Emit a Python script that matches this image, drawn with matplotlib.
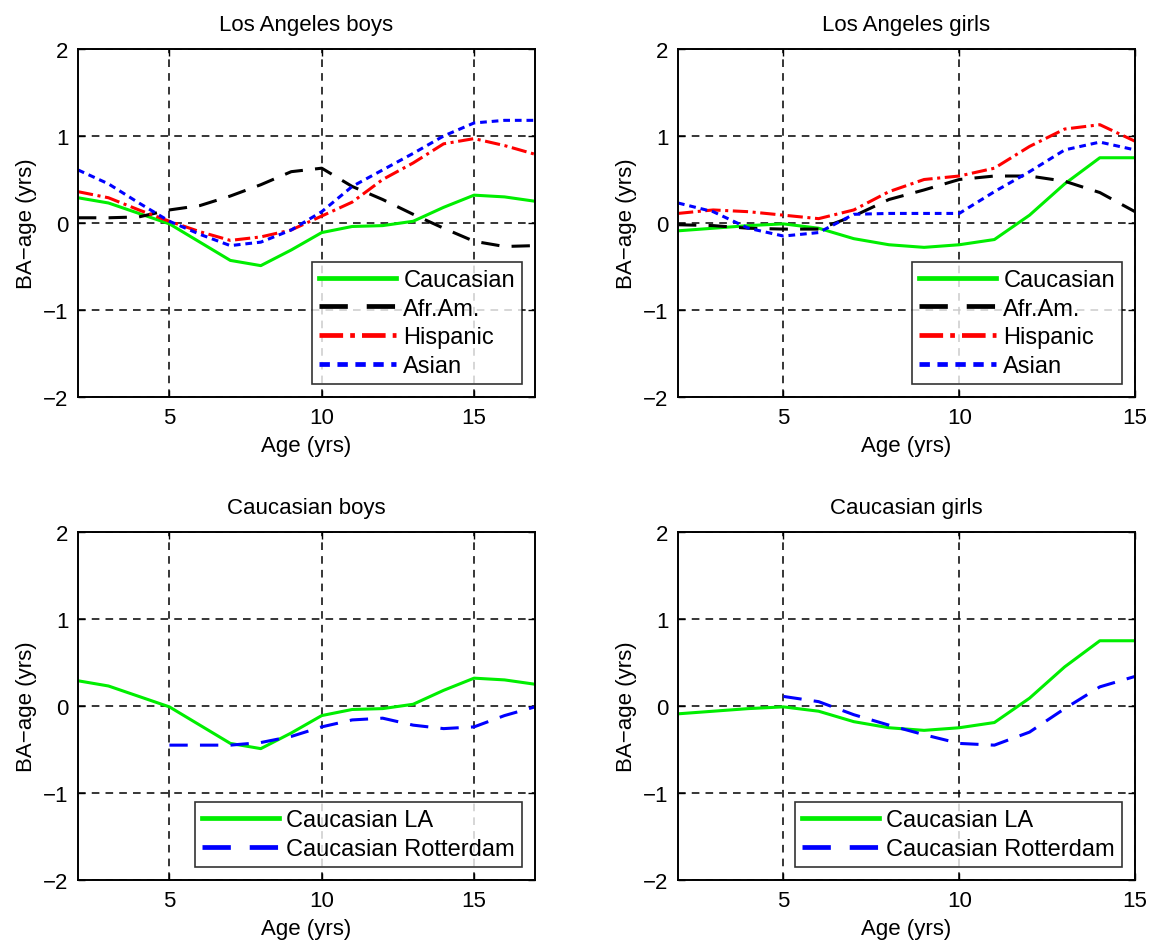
import matplotlib
matplotlib.use("Agg")
import matplotlib.pyplot as plt
import numpy as np

plt.rcParams['font.family'] = ['Liberation Sans', 'DejaVu Sans']

# ---- data ----
ages_boys = list(range(2, 18))
ages_girls = list(range(2, 16))
ages_rot_boys = list(range(5, 18))
ages_rot_girls = list(range(5, 16))

boys_caucasian = [0.29, 0.23, 0.11, -0.01, -0.22, -0.43, -0.49, -0.31, -0.11, -0.04, -0.03, 0.02, 0.18, 0.32, 0.30, 0.25]
boys_afram = [0.06, 0.06, 0.07, 0.15, 0.20, 0.31, 0.44, 0.59, 0.63, 0.42, 0.27, 0.10, -0.06, -0.21, -0.27, -0.26]
boys_hispanic = [0.36, 0.29, 0.15, 0.02, -0.10, -0.20, -0.16, -0.08, 0.08, 0.24, 0.50, 0.69, 0.91, 0.97, 0.89, 0.79]
boys_asian = [0.61, 0.45, 0.23, 0.02, -0.13, -0.26, -0.22, -0.08, 0.13, 0.42, 0.61, 0.80, 1.00, 1.15, 1.18, 1.18]

girls_caucasian = [-0.09, -0.06, -0.03, -0.01, -0.06, -0.18, -0.25, -0.28, -0.25, -0.19, 0.09, 0.45, 0.75, 0.75]
girls_afram = [-0.02, -0.03, -0.06, -0.07, -0.07, 0.08, 0.27, 0.38, 0.50, 0.54, 0.54, 0.48, 0.35, 0.13]
girls_hispanic = [0.11, 0.15, 0.13, 0.09, 0.05, 0.15, 0.36, 0.50, 0.54, 0.63, 0.88, 1.08, 1.13, 0.94]
girls_asian = [0.23, 0.13, -0.06, -0.15, -0.11, 0.10, 0.11, 0.11, 0.11, 0.36, 0.59, 0.84, 0.93, 0.84]

boys_rotterdam = [-0.45, -0.45, -0.45, -0.42, -0.35, -0.24, -0.16, -0.14, -0.22, -0.26, -0.24, -0.11, -0.01]
girls_rotterdam = [0.11, 0.05, -0.10, -0.22, -0.33, -0.43, -0.45, -0.30, -0.03, 0.22, 0.34]

titles = ["Los Angeles boys", "Los Angeles girls", "Caucasian boys", "Caucasian girls"]
xlabel = "Age (yrs)"
ylabel = "BA\u2212age (yrs)"
ethnic_labels = ["Caucasian", "Afr.Am.", "Hispanic", "Asian"]
city_labels = ["Caucasian LA", "Caucasian Rotterdam"]

GREEN = '#00ee00'
FS = 16

fig = plt.figure(figsize=(11.52, 9.45), dpi=100)
W, H = 1152, 945
def add_ax(l, r, t, b):
    return fig.add_axes([l / W, 1 - b / H, (r - l) / W, (b - t) / H])

axes = [add_ax(78, 535, 50, 398), add_ax(678, 1135, 50, 398),
        add_ax(78, 535, 533, 881), add_ax(678, 1135, 533, 881)]

def style(ax, xmax, title):
    ax.set_xlim(2, xmax)
    ax.set_ylim(-2, 2)
    ax.set_xticks([5, 10, 15])
    ax.set_yticks([-2, -1, 0, 1, 2])
    ax.set_yticklabels(["\u22122", "\u22121", "0", "1", "2"])
    ax.tick_params(direction='in', length=5, width=1, labelsize=FS, pad=7,
                   top=True, right=True)
    ax.grid(True, color='black', linestyle=(0, (5, 4)), linewidth=1.1)
    for s in ax.spines.values():
        s.set_linewidth(1.4)
    ax.set_title(title, fontsize=FS, pad=14)
    ax.set_xlabel(xlabel, fontsize=FS, labelpad=5)
    ax.set_ylabel(ylabel, fontsize=FS, labelpad=4)

def make_legend(ax):
    leg = ax.legend(loc='lower right', fontsize=FS + 1, frameon=True, fancybox=False,
                    edgecolor='black', handlelength=3.25, borderaxespad=0.55,
                    labelspacing=0.28, handletextpad=0.3, borderpad=0.3)
    leg.get_frame().set_linewidth(1.2)
    for line in leg.get_lines():
        line.set_linewidth(3.4)

def ethnic(ax, ages, c, a, h, s):
    ax.plot(ages, c, color=GREEN, lw=2.2, ls='-', label=ethnic_labels[0])
    ax.plot(ages, a, color='black', lw=2.2, ls=(0, (6, 4)), label=ethnic_labels[1])
    ax.plot(ages, h, color='red', lw=2.2, ls=(0, (5, 1.5, 1, 1.5)), label=ethnic_labels[2])
    ax.plot(ages, s, color='blue', lw=2.2, ls=(0, (2.2, 1.6)), label=ethnic_labels[3])
    make_legend(ax)

ethnic(axes[0], ages_boys, boys_caucasian, boys_afram, boys_hispanic, boys_asian)
style(axes[0], 17, titles[0])
ethnic(axes[1], ages_girls, girls_caucasian, girls_afram, girls_hispanic, girls_asian)
style(axes[1], 15, titles[1])

def city(ax, ages, c, ages_r, r):
    ax.plot(ages, c, color=GREEN, lw=2.2, ls='-', label=city_labels[0])
    ax.plot(ages_r, r, color='blue', lw=2.2, ls=(0, (6, 4)), label=city_labels[1])
    make_legend(ax)

city(axes[2], ages_boys, boys_caucasian, ages_rot_boys, boys_rotterdam)
style(axes[2], 17, titles[2])
city(axes[3], ages_girls, girls_caucasian, ages_rot_girls, girls_rotterdam)
style(axes[3], 15, titles[3])

fig.savefig("out.png", dpi=100)
